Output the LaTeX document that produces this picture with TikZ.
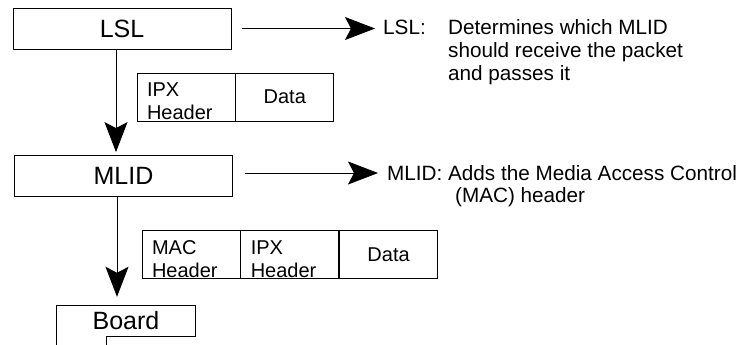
\documentclass[tikz,border=0pt]{standalone}
\usepackage{fontspec}
\setmainfont{Liberation Sans}
\usetikzlibrary{arrows.meta}
\begin{document}
\begin{tikzpicture}[x=1pt,y=-1pt,
  layer/.style={draw,line width=0.8pt,minimum width=218pt,minimum height=41pt,font=\fontsize{25}{30}\selectfont},
  cell/.style={draw,line width=0.8pt,minimum height=48pt,text width=78pt,inner xsep=10pt,inner ysep=0pt,align=left,font=\fontsize{20}{23}\selectfont},
  note/.style={anchor=base west,inner sep=0pt,font=\fontsize{20.7}{22.8}\selectfont},
  arr/.style={line width=0.8pt,-{Stealth[length=30pt,width=23pt,inset=6pt]}}]
\useasboundingbox (0,0) rectangle (749,345);
% protocol layers
\node[layer](LSL) at (122,28.5){LSL};
\node[layer](MLID) at (123.5,176){MLID};
\node[font=\fontsize{25}{30}\selectfont,minimum width=138pt,minimum height=30pt,inner sep=0pt](Board) at (126,321){Board};
\draw[line width=0.8pt] ([yshift=-9pt]Board.south west) -- (Board.north west) -- (Board.north east) -- (Board.south east) -- ++(-89,0) -- ++(0,9);
\draw[arr,shorten >=3pt] ([xshift=-6pt]LSL.south) -- ([xshift=-6pt]LSL.south |- MLID.north);
\draw[arr,shorten >=9pt] ([xshift=-6.5pt]MLID.south) -- ([xshift=-6.5pt]MLID.south |- Board.north);
% notes
\node[note](LSLnote) at (383,35){\begin{tabular}[t]{@{}p{65pt}@{}l@{}}LSL: & Determines which MLID\\ & should receive the packet\\ & and passes it\end{tabular}};
\node[note](MLIDnote) at (387,180){\begin{tabular}[t]{@{}l@{ }l@{}}MLID: & Adds the Media Access Control\\ & \hspace{7pt}(MAC) header\end{tabular}};
\draw[arr,shorten <=11pt,shorten >=8pt] (LSL.east) -- (LSL.east -| LSLnote.west);
\draw[arr,shorten <=12pt,shorten >=9pt] ([yshift=3pt]MLID.east) -- ([yshift=3pt]MLID.east -| MLIDnote.west);
% packets
\node[cell](IPX) at (186,97){\rule{0pt}{23pt}IPX\\Header};
\node[cell,align=center,anchor=west](Data) at (IPX.east){Data};
\node[cell](MAC) at (191,254.5){\rule{0pt}{23pt}MAC\\Header};
\node[cell,anchor=west](IPX2) at (MAC.east){\rule{0pt}{23pt}IPX\\Header};
\node[cell,align=center,anchor=west](Data2) at (IPX2.east){Data};
\end{tikzpicture}
\end{document}
